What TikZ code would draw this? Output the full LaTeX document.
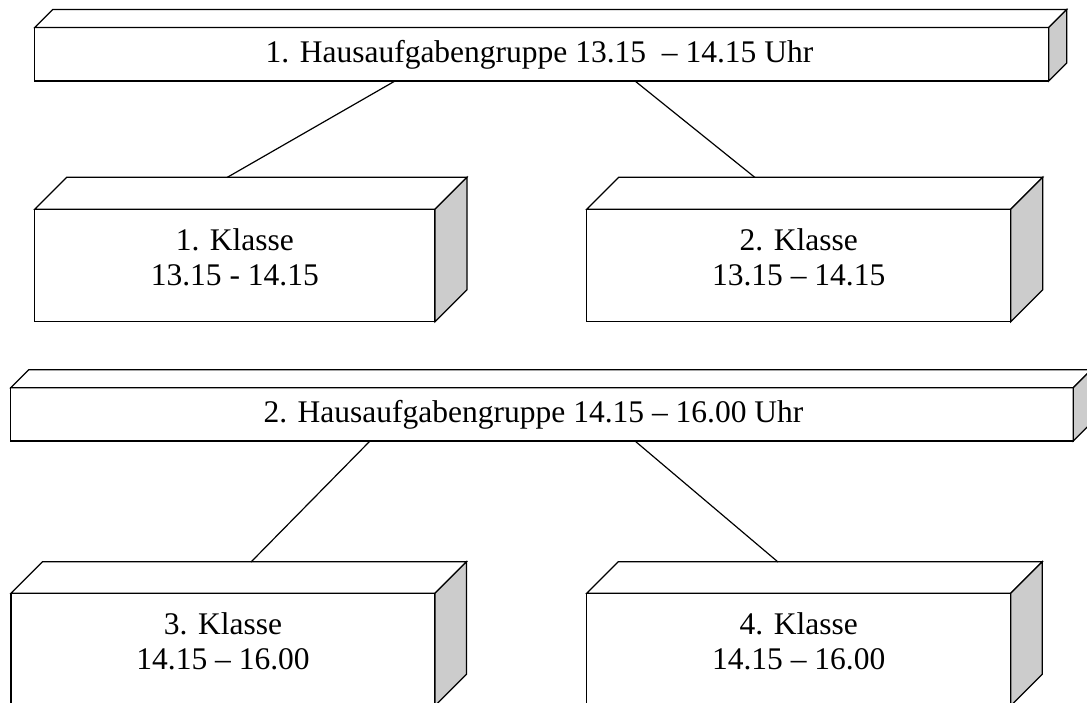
\documentclass[tikz,border=0pt]{standalone}
\usepackage{fontspec}
\setmainfont{Liberation Serif}
\usetikzlibrary{calc}
\definecolor{sidegray}{HTML}{CCCCCC}
\tikzset{
  front/.style={draw=black, line width=1.2pt, fill=white, rectangle, outer sep=0pt, inner sep=0pt},
  txt/.style={font=\fontsize{31.5}{35}\selectfont, align=center, inner sep=0pt},
  face/.style={draw=black, line width=1.2pt, fill=white, line join=miter},
  sideface/.style={face, fill=sidegray},
  conn/.style={draw=black, line width=1.2pt},
}
\newcommand{\cuboid}[2]{%
  \path[face] (#1.north west) -- ++(#2,-#2) -- ($(#1.north east)+(#2,-#2)$) -- (#1.north east) -- cycle;
  \path[sideface] (#1.north east) -- ++(#2,-#2) -- ($(#1.south east)+(#2,-#2)$) -- (#1.south east) -- cycle;
}
\begin{document}
\begin{tikzpicture}[x=1pt,y=-1pt]
\useasboundingbox (0,0) rectangle (1087,702);
% top group bar
\node[front, minimum width=1014pt, minimum height=53.5pt] (bar1) at (541.7,54.25) {};
\node[txt] (bar1t) at (539.5,55) {1. Hausaufgabengruppe 13.15\ \ – 14.15 Uhr};
\cuboid{bar1}{18}
% class boxes 1,2
\node[front, minimum width=400.3pt, minimum height=112.4pt] (k1) at (234.85,265.5) {};
\node[txt] (k1t) at (234.85,257) {1. Klasse\\13.15 - 14.15};
\cuboid{k1}{32}
\node[front, minimum width=424pt, minimum height=112.4pt] (k2) at (798.7,265.5) {};
\node[txt] (k2t) at (798.7,257) {2. Klasse\\13.15 – 14.15};
\cuboid{k2}{32}
% second group bar
\node[front, minimum width=1062.6pt, minimum height=53.3pt] (bar2) at (542,414.35) {};
\node[txt] (bar2t) at (533.5,415) {2. Hausaufgabengruppe 14.15 – 16.00 Uhr};
\cuboid{bar2}{18}
% class boxes 3,4
\node[front, minimum width=424pt, minimum height=112.4pt] (k3) at (223,649.5) {};
\node[txt] (k3t) at (223,641) {3. Klasse\\14.15 – 16.00};
\cuboid{k3}{31.5}
\node[front, minimum width=424pt, minimum height=112.4pt] (k4) at (798.7,649.5) {};
\node[txt] (k4t) at (798.7,641) {4. Klasse\\14.15 – 16.00};
\cuboid{k4}{31.5}
% connector end points
\coordinate (b1l) at (395,81);
\coordinate (b1r) at (635,81);
\coordinate (k1top) at (227,177.5);
\coordinate (k2top) at (755,177.5);
\coordinate (b2l) at (370,441);
\coordinate (b2r) at (635,441);
\coordinate (k3top) at (251,562);
\coordinate (k4top) at (778,562);
\draw[conn] (b1l) -- (k1top);
\draw[conn] (b1r) -- (k2top);
\draw[conn] (b2l) -- (k3top);
\draw[conn] (b2r) -- (k4top);
\end{tikzpicture}
\end{document}
